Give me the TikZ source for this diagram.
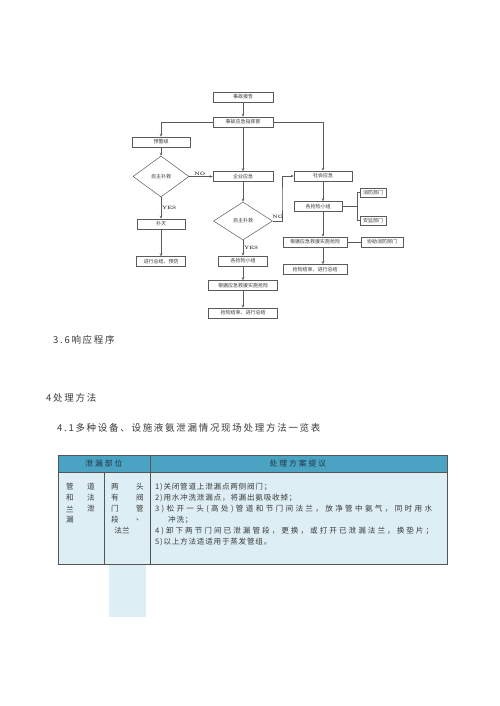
\documentclass[tikz,border=0pt]{standalone}
\usepackage{fontspec}
\newfontfamily\cjk{Noto Sans CJK SC}
\newfontfamily\cjkbody[LetterSpace=18]{Noto Sans CJK SC}
\newfontfamily\cjkhead[LetterSpace=25]{Noto Sans CJK SC}
\newfontfamily\cjktab[LetterSpace=10]{Noto Sans CJK SC}
\usetikzlibrary{arrows.meta,shapes.geometric}
\definecolor{lg}{HTML}{5A5A5A}
\definecolor{tg}{HTML}{3A3A3A}
\definecolor{hd}{HTML}{1F3440}
\definecolor{headblue}{HTML}{4BA3C3}
\definecolor{bodyblue}{HTML}{DDEFF5}
\definecolor{tblline}{HTML}{555555}
\def\sprd#1{#1\sprdi}
\def\sprdi#1{\ifx#1\relax\else\hfill#1\expandafter\sprdi\fi}
\begin{document}
\begin{tikzpicture}[x=1pt,y=-1pt,
  fbox/.style={draw=lg, fill=white, line width=0.5pt, minimum width=#1, minimum height=10pt, inner sep=0pt, font=\cjk\fontsize{5}{5.5}\selectfont, text=tg},
  fdia/.style={diamond, draw=lg, fill=white, line width=0.5pt, inner sep=0pt, font=\cjk\fontsize{5}{5.5}\selectfont, text=tg},
  arr/.style={draw=lg, line width=0.5pt, -{Stealth[length=3pt,width=2.5pt]}},
  ln/.style={draw=lg, line width=0.5pt},
  br/.style={draw=lg, line width=0.9pt},
  lbl/.style={font=\bfseries\fontsize{4.8}{5}\selectfont, text=tg, inner sep=0.8pt},
  body/.style={font=\cjkbody\fontsize{9.5}{11}\selectfont, text=tg, anchor=west, inner sep=0pt},
  ttext/.style={font=\cjktab\fontsize{7.6}{9}\selectfont, text=tg, anchor=west, inner sep=0pt},
  gchar/.style={font=\cjk\fontsize{7.6}{9}\selectfont, text=tg, inner sep=0pt},
  htext/.style={font=\cjkhead\fontsize{7.8}{9}\selectfont, text=hd, inner sep=0pt},
]
\fill[white] (0,0) rectangle (500,706);
\useasboundingbox (0,0) rectangle (500,706);

% ---------------- flowchart ----------------
\node[fbox=60pt] (r1) at (243,97) {事故报告};
\node[fbox=60pt] (r2) at (243,122) {事故应急指挥部};
\node[fbox=58pt] (r3) at (161,142) {预警级};
\node[fdia, minimum width=56pt, minimum height=41pt] (d1) at (161,176.5) {自主扑救};
\node[fbox=48pt] (r4) at (161,224) {扑灭};
\node[fbox=49pt] (r5) at (161,261.5) {进行总结、预防};
\node[fbox=60pt] (r6) at (243,176.5) {企业应急};
\node[fdia, minimum width=59pt, minimum height=38pt] (d2) at (243,221) {自主扑救};
\node[fbox=49pt] (r7) at (243,261) {各抢险小组};
\node[fbox=69pt] (r8) at (243,285.5) {根据应急救援实施抢险};
\node[fbox=69pt] (r9) at (243,313) {抢险结束、进行总结};
\node[fbox=58pt] (r10) at (323,176) {社会应急};
\node[fbox=48pt] (r11) at (318,206.5) {各抢险小组};
\node[fbox=26pt, minimum height=9pt] (r12) at (373,192.5) {消防部门};
\node[fbox=26pt, minimum height=9pt] (r13) at (373,220.5) {安监部门};
\node[fbox=64pt] (r14) at (315,242) {根据应急救援实施抢险};
\node[fbox=42pt] (r15) at (382,242) {协助消防部门};
\node[fbox=64pt] (r16) at (315,269.5) {抢险结束、进行总结};

\draw[arr] (r1) -- (r2);
\draw[arr] (r2) -- (r6);
\draw[arr] (r2.west) -| (r3.north);
\draw[arr] (r2.east) -| (r10.north);
\draw[arr] (r3) -- (d1);
\draw[arr] (d1.east) -- (r6.west) node[lbl, pos=0.45, above] {NO};
\draw[arr] (d1.south) -- (r4.north) node[lbl, midway, right] {YES};
\draw[arr] (r4) -- (r5);
\draw[arr] (r6) -- (d2);
\coordinate (k) at (282,200);
\draw[arr] (d2.east) -| (k) |- (r10.west);
\node[lbl, anchor=south] (no2) at ([xshift=5pt,yshift=1pt]d2.east) {NO};
\draw[arr] (d2.south) -- (r7.north) node[lbl, midway, right] {YES};
\draw[arr] (r7) -- (r8);
\draw[arr] (r8) -- (r9);
\draw[arr] (r10.south) -- (r10.south |- r11.north);
\draw[arr] (r10.south |- r11.south) -- (r10.south |- r14.north);
\draw[arr] (r10.south |- r14.south) -- (r10.south |- r16.north);
\coordinate (bj) at (357,206.5);
\draw[br] (r11.east) -- (bj);
\draw[br] (r12.west) -- (bj |- r12.west) -- (bj |- r13.west) -- (r13.west);
\draw[ln] (r14.east) -- (r15.west);

% ---------------- headings ----------------
\node[body] (t1) at (53,340) {3.6响应程序};
\node[body] (t2) at (46,398) {4处理方法};
\node[body] (t3) at (57,428) {4.1多种设备、设施液氨泄漏情况现场处理方法一览表};

% ---------------- table ----------------
\fill[headblue] (58,455) rectangle (447,472);
\fill[bodyblue] (58,472) rectangle (447,564);
\fill[bodyblue] (109,564) rectangle (146,617);
\draw[tblline, line width=0.8pt] (58,455) rectangle (447,564);
\draw[tblline, line width=0.8pt] (150,455) -- (150,564);
\draw[tblline, line width=0.8pt] (58,472) -- (447,472);
\draw[tblline, line width=0.8pt] (104,472) -- (104,564);

\node[htext] (h1) at (104,463.5) {泄漏部位};
\node[htext] (h2) at (298,463.5) {处理方案提议};

\node[gchar] (a1) at (70,487) {管};  \node[gchar] (a2) at (91,487) {道};
\node[gchar] (a3) at (70,498) {和};  \node[gchar] (a4) at (91,498) {法};
\node[gchar] (a5) at (70,509) {兰};  \node[gchar] (a6) at (91,509) {泄};
\node[gchar] (a7) at (70,520) {漏};

\node[gchar] (b1) at (115,487) {两};  \node[gchar] (b2) at (140,487) {头};
\node[gchar] (b3) at (115,498) {有};  \node[gchar] (b4) at (140,498) {阀};
\node[gchar] (b5) at (115,509) {门};  \node[gchar] (b6) at (140,509) {管};
\node[gchar] (b7) at (115,520) {段};  \node[gchar] (b8) at (140,520) {、};
\node[gchar] (b9) at (122,531) {法兰};

\node[ttext] (p1) at (155,487) {1)关闭管道上泄漏点两侧阀门；};
\node[ttext] (p2) at (155,498) {2)用水冲洗泄漏点，将漏出氨吸收掉；};
\node[ttext] (p3) at (155,509) {\makebox[277pt][l]{\sprd 3)松开一头(高处)管道和节门间法兰，放净管中氨气，同时用水\relax}};
\node[ttext] (p3b) at (168,520) {冲洗；};
\node[ttext] (p4) at (155,531) {\makebox[278pt][l]{\sprd 4)卸下两节门间已泄漏管段，更换，或打开已泄漏法兰，换垫片；\relax}};
\node[ttext] (p5) at (155,542) {5)以上方法适适用于蒸发管组。};
\end{tikzpicture}
\end{document}
